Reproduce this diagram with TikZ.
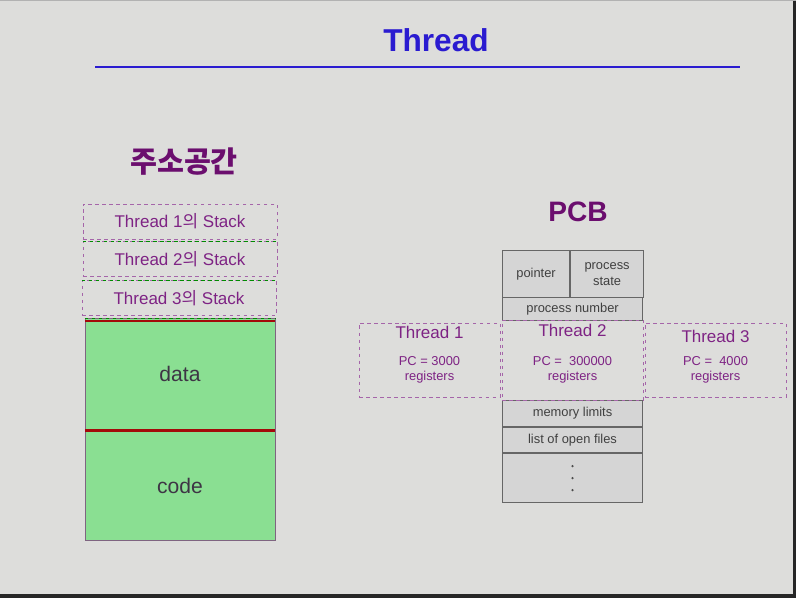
\documentclass[tikz,border=0pt]{standalone}
\usepackage{fontspec}
\setmainfont{Liberation Sans}
\newfontfamily\kr{Noto Sans CJK KR}
\usetikzlibrary{positioning}
\definecolor{slide}{HTML}{DDDDDB}
\definecolor{titleblue}{HTML}{2A1BD0}
\definecolor{plum}{HTML}{6B0E6E}
\definecolor{orchid}{HTML}{7E2384}
\definecolor{leaf}{HTML}{8ADF92}
\definecolor{brick}{HTML}{A30A0A}
\definecolor{cellgray}{HTML}{D5D5D5}
\definecolor{ink}{HTML}{3E3545}
\newcommand{\ui}{{\kr 의}}

\begin{document}
\begin{tikzpicture}[
    x=0.03cm, y=-0.03cm,
    stackbox/.style={rectangle, draw=orchid!70, dashed, thin,
                     minimum width=5.82cm, minimum height=1.06cm,
                     text=orchid, font=\fontsize{14.5}{16}\selectfont},
    seg/.style={rectangle, draw=gray!70!orchid, fill=leaf, text=ink,
                minimum width=5.7cm, font=\fontsize{18}{20}\selectfont},
    cell/.style={rectangle, draw=black!60, line width=0.9pt, fill=cellgray,
                 text=black!75, font=\fontsize{11}{13}\selectfont,
                 align=center, inner sep=0pt},
    thr/.style={rectangle, draw=orchid!70, dashed, thin,
                minimum width=4.23cm},
    greendash/.style={draw=green!55!black, dashed, thick},
    redline/.style={draw=brick, line width=2.4pt},
  ]
    % slide background and screen edges
    \fill[slide] (0,0) rectangle (796,598);
    \fill[black!85] (793,0) rectangle (796,598);
    \fill[black!85] (0,594) rectangle (796,598);
    \fill[gray!60] (0,0) rectangle (796,1.5);

    % heading
    \node[text=titleblue, font=\fontsize{27}{30}\bfseries\selectfont] (title) at (436,40) {Thread};
    \coordinate (rulel) at (95,67);
    \coordinate (ruler) at (740,67);
    \draw[titleblue, line width=2.4pt] (rulel) -- (ruler);

    % address space
    \node[text=plum, font=\kr\fontsize{25}{28}\bfseries\selectfont] (as) at (184,162) {주소공간};
    \node[stackbox] (s1) at (180,221.5) {Thread 1\ui{} Stack};
    \node[stackbox] (s2) at (180,259) {Thread 2\ui{} Stack};
    \node[stackbox] (s3) at (179,298) {Thread 3\ui{} Stack};
    \node[seg, minimum height=3.36cm, anchor=north] (data) at (180,318) {data};
    \node[seg, minimum height=3.3cm, below=0pt of data] (code) {code};
    \foreach \s in {s2, s3, data}
      \draw[greendash] (\s.north west) -- (\s.north east);
    \draw[redline] ([yshift=-0.09cm]data.north west) -- ([yshift=-0.09cm]data.north east);
    \draw[redline] (data.south west) -- (data.south east);

    % PCB
    \node[text=plum, font=\fontsize{24}{27}\bfseries\selectfont] (pcb) at (578,212) {PCB};
    \node[cell, minimum width=2.01cm, minimum height=1.41cm, anchor=north west] (ptr) at (502,250) {pointer};
    \node[cell, minimum width=2.19cm, minimum height=1.41cm, right=0pt of ptr] (pst) {process\\state};
    \node[cell, minimum width=4.2cm, minimum height=0.69cm, anchor=north west] (pnum) at (502,297) {process number};
    \node[cell, minimum width=4.2cm, minimum height=0.78cm, anchor=north west] (mem) at (502,400) {memory limits};
    \node[cell, minimum width=4.2cm, minimum height=0.75cm, below=0pt of mem] (files) {list of open files};
    \node[cell, minimum width=4.2cm, minimum height=1.47cm, below=0pt of files] (more) {};
    \foreach \d in {-12, 0, 12}
      \fill[black!70] ([yshift=-\d*0.03cm]more.center) circle (1.1pt);

    % threads
    \foreach \i/\cx/\h/\ty/\pc in {1/429.5/2.22/332/{PC = 3000},
                                   2/572.5/2.40/330/{PC =\ \ 300000},
                                   3/715.5/2.22/336/{PC =\ \ 4000}} {
      \node[thr, minimum height=\h cm] (t\i) at (\cx,360) {};
      \node[text=orchid, font=\fontsize{14.5}{16}\selectfont] (t\i h) at (\cx,\ty) {Thread \i};
      \node[text=orchid, font=\fontsize{11}{13}\selectfont, align=center] (t\i r) at (\cx,370) {\pc\\registers};
    }
  \end{tikzpicture}
\end{document}
